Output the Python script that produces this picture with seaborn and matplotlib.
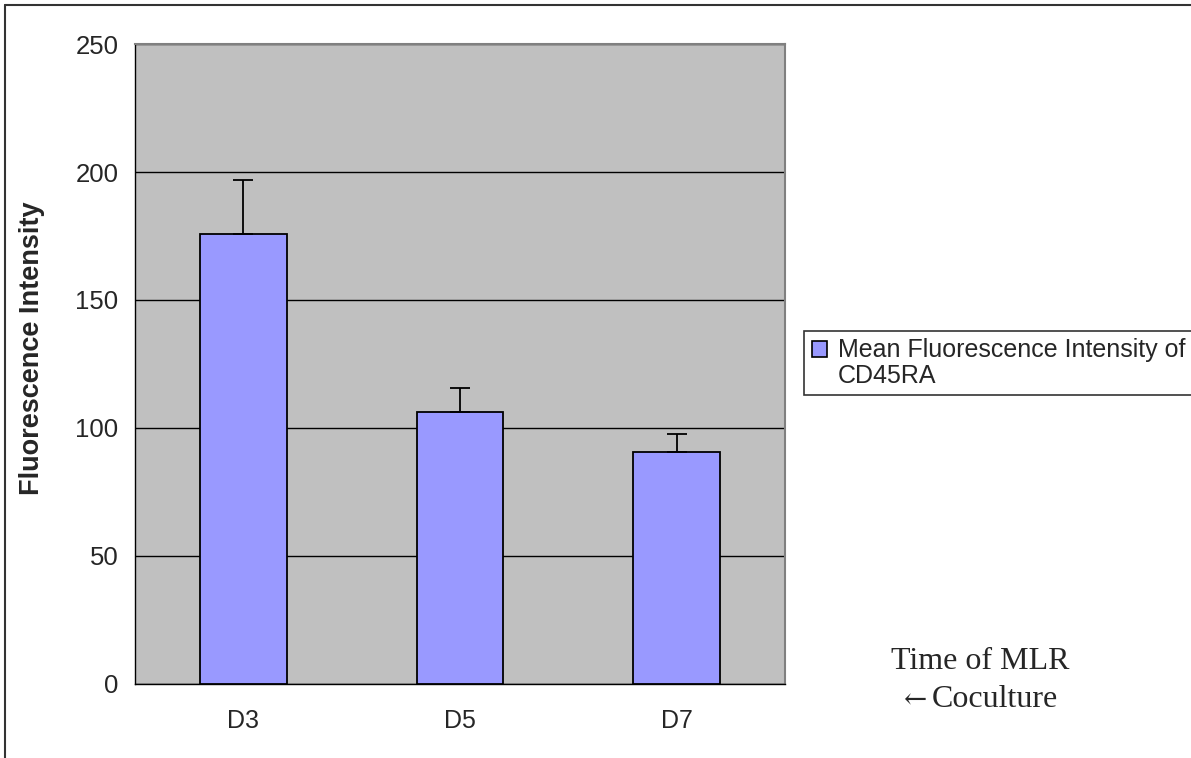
import numpy as np
import pandas as pd
import matplotlib
matplotlib.use("Agg")
import matplotlib.pyplot as plt
from matplotlib.lines import Line2D
from matplotlib.patches import Patch
import seaborn as sns

# chart values
days = ["D3", "D5", "D7"]
mfi = [176, 106, 90.5]
mfi_err = [21, 9.5, 7]
legend_lines = ["Mean Fluorescence Intensity of", "CD45RA"]

sns.set_style("white")
plt.rcParams['font.family'] = ['Liberation Sans', 'DejaVu Sans']

df = pd.DataFrame({"day": days, "mfi": mfi})

fig = plt.figure(figsize=(11.91, 7.58), dpi=100)
ax = fig.add_axes([135 / 1191, 1 - 683.5 / 758, 650 / 1191, 639.2 / 758])
ax.set_facecolor("#C0C0C0")

bar_color = "#9999FF"
sns.barplot(data=df, x="day", y="mfi", color=bar_color, edgecolor="black",
            linewidth=1.3, width=0.4, saturation=1, errorbar=None, ax=ax, zorder=3)

# one-sided error bars (up only)
ax.errorbar(np.arange(len(days)), mfi, yerr=[np.zeros(len(days)), mfi_err],
            fmt="none", ecolor="black", elinewidth=1.3, capsize=7, capthick=1.3, zorder=4)

ax.set_ylim(0, 250)
ax.set_xlim(-0.5, 2.5)
ax.set_yticks([0, 50, 100, 150, 200, 250])
ax.yaxis.grid(True, color="black", linewidth=1)
ax.set_axisbelow(True)

# category boundary ticks like the original
ax.set_xticks(np.arange(len(days)))
ax.set_xticklabels(days)
ax.set_xticks([-0.5, 0.5, 1.5, 2.5], minor=True)
ax.tick_params(axis="x", which="major", length=0, pad=18, labelsize=18)
ax.tick_params(axis="x", which="minor", length=7, width=1, direction="out", color="black")
ax.tick_params(axis="y", length=7, width=1, direction="out", color="black", labelsize=18.5, pad=5)

for side in ["left", "bottom"]:
    ax.spines[side].set_color("black")
    ax.spines[side].set_linewidth(1)
for side in ["top", "right"]:
    ax.spines[side].set_color("#808080")
    ax.spines[side].set_linewidth(1.5)

ax.set_xlabel("")
ax.set_ylabel("Fluorescence Intensity", fontsize=19.5, fontweight="bold")
ax.yaxis.set_label_coords(-0.138, 0.525)

# legend: swatch next to the first line of the wrapped label
handles = [Patch(facecolor=bar_color, edgecolor="black", linewidth=1.2),
           Patch(facecolor="none", edgecolor="none")]
leg = ax.legend(handles, legend_lines, loc="upper left",
                bbox_to_anchor=(804 / 1191, 1 - 331 / 758),
                bbox_transform=fig.transFigure, fontsize=18, frameon=True,
                fancybox=False, edgecolor="black", handlelength=0.6, handleheight=0.6,
                handletextpad=0.45, borderpad=0.3, labelspacing=0.05, borderaxespad=0)
leg.get_frame().set_linewidth(1.2)

serif = ["Liberation Serif", "DejaVu Serif"]
fig.text(980 / 1191, 1 - 669 / 758, "Time of MLR", ha="center", va="baseline",
         fontsize=23, family=serif)
fig.text(916 / 1191, 1 - 701 / 758, "\u2190", ha="center", va="center",
         fontsize=20, family=["DejaVu Serif"])
fig.text(932 / 1191, 1 - 707 / 758, "Coculture", ha="left", va="baseline",
         fontsize=23, family=serif)

# outer chart border (left and top edges visible)
fig.add_artist(Line2D([5 / 1191, 5 / 1191], [0, 1 - 5 / 758], transform=fig.transFigure,
                      color="#333333", linewidth=1.5))
fig.add_artist(Line2D([5 / 1191, 1], [1 - 5 / 758, 1 - 5 / 758], transform=fig.transFigure,
                      color="#333333", linewidth=1.5))

fig.savefig("out.png", dpi=100)
